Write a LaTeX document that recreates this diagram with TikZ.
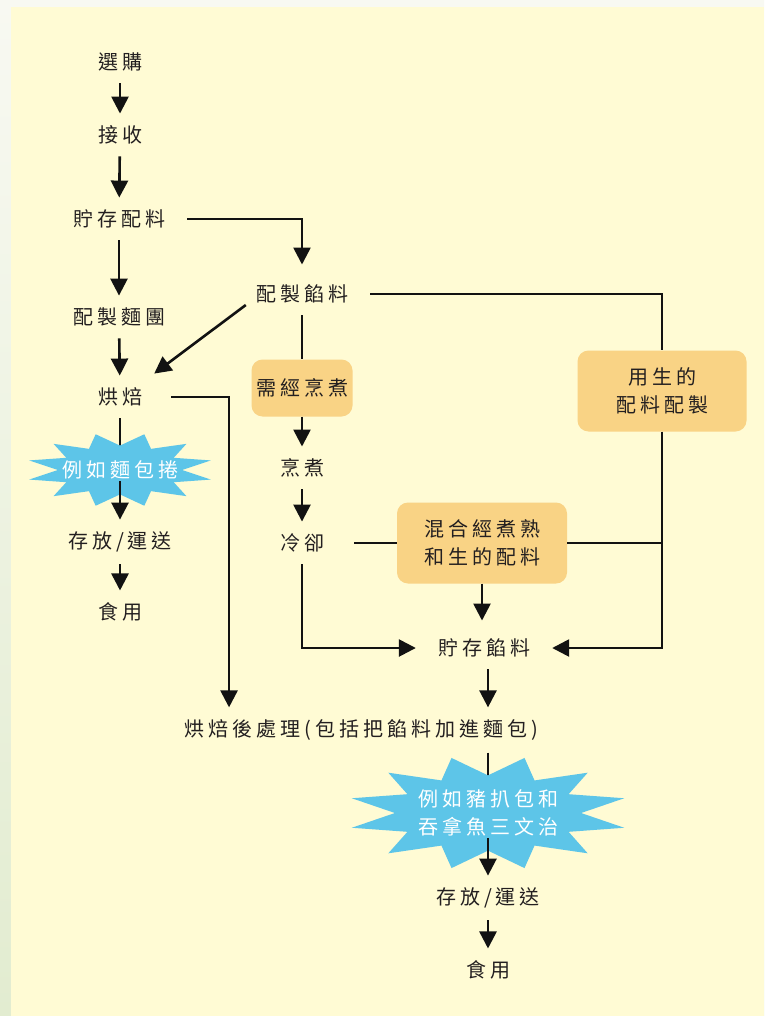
\documentclass[tikz,border=0pt]{standalone}
\usepackage{fontspec}
\newfontfamily\cjk[LetterSpace=20]{Noto Sans CJK TC}
\usetikzlibrary{arrows.meta}

\definecolor{paper}{HTML}{FFFBD4}
\definecolor{edgetop}{HTML}{F8F9F2}
\definecolor{edgebot}{HTML}{E2ECD0}
\definecolor{boxorange}{HTML}{F9D385}
\definecolor{burstblue}{HTML}{5DC5E8}
\definecolor{ink}{HTML}{231F20}

\tikzset{
  flowtext/.style={font=\cjk\fontsize{20pt}{28pt}\selectfont, text=ink, inner xsep=22pt, inner ysep=12pt, align=center},
  notebox/.style={flowtext, fill=boxorange, rounded corners=11pt, inner sep=4pt},
  bursttext/.style={flowtext, text=white, inner sep=2pt},
  flowline/.style={line width=2.6pt, draw=black!93},
  flowarrow/.style={flowline, -{Triangle[width=17pt,length=17pt]}},
}

% star shaped label background: centre, x radius, y radius
\newcommand{\burst}[3]{%
  \fill[burstblue, shift={(#1)}] (15:#2 and #3)
    \foreach \a in {30,60,...,360} {-- (\a:0.66*#2 and 0.66*#3) -- (\a+15:#2 and #3)} -- cycle;}

\begin{document}
\begin{tikzpicture}[x=1pt,y=-1pt]
            % page
            \useasboundingbox (0,0) rectangle (764,1016);
            \shade [top color=edgetop, bottom color=edgebot] (0,0) rectangle (764,1016);
            \fill [paper] (11,7) rectangle (764,1016);
            % bread column
            \node [flowtext] (buy) at (120,62) {選購};
            \node [flowtext] (recv) at (120,135) {接收};
            \node [flowtext] (stock) at (119,219) {貯存配料};
            \node [flowtext] (dough) at (119,317) {配製麵團};
            \node [flowtext] (bake) at (120,397) {烘焙};
            \coordinate (rollc) at (120,470);
            \node [flowtext] (store1) at (120,542) {存放/運送};
            \node [flowtext] (eat1) at (120,612) {食用};
            % filling column
            \node [flowtext] (fillmake) at (302,294) {配製餡料};
            \node [notebox, minimum width=101pt, minimum height=57pt] (cookbox) at (302,388) {需經烹煮};
            \node [flowtext] (cook) at (302,468) {烹煮};
            \node [flowtext] (cool) at (302,543) {冷卻};
            \node [notebox, minimum width=170pt, minimum height=81pt] (mixbox) at (482,543) {混合經煮熟\\和生的配料};
            \node [notebox, minimum width=169pt, minimum height=81pt] (rawbox) at (662,391) {用生的\\配料配製};
            \node [flowtext] (fillstore) at (484,648) {貯存餡料};
            % after baking
            \node [flowtext] (post) at (361,730) {烘焙後處理(包括把餡料加進麵包)};
            \coordinate (sandc) at (488,813);
            \node [flowtext] (store2) at (488,898) {存放/運送};
            \node [flowtext] (eat2) at (488,970) {食用};
            % arrows down the left
            \draw [flowarrow] (buy) -- (recv);
            \draw [flowarrow] (recv) -- (stock);
            \draw [flowarrow] (stock) -- (dough);
            \draw [flowarrow] (dough) -- (bake);
            \draw [flowline] (bake) -- (rollc);
            \draw [flowarrow] (store1) -- (eat1);
            % filling lines
            \draw [flowarrow] (stock.east) -| ([yshift=8pt]fillmake.north);
            \draw [flowarrow] ([xshift=12pt,yshift=-11pt]fillmake.west) -- ([xshift=-10pt,yshift=2pt]bake.north east);
            \draw [flowline] (fillmake) -- (cookbox);
            \draw [flowarrow] (cookbox) -- (cook);
            \draw [flowarrow] (cook) -- (cool);
            \draw [flowline] ([xshift=8pt]cool.east) -- (mixbox.west);
            \draw [flowline] (mixbox.east) -- (mixbox.east -| rawbox.south);
            \draw [flowline] (fillmake.east) -| (rawbox.north);
            \draw [flowarrow] (rawbox.south) |- (fillstore.east);
            \draw [flowarrow] (cool.south) |- (fillstore.west);
            \draw [flowarrow] (mixbox.south) -- ([yshift=6pt]mixbox.south |- fillstore.north);
            \draw [flowarrow] ([xshift=7pt]bake.east) -| ([xshift=67pt]post.north west);
            \draw [flowarrow] (fillstore.south -| sandc) -- (post.north -| sandc);
            \draw [flowline] (post.south -| sandc) -- (sandc);
            % stars
            \burst{rollc}{94}{37}
            \node [bursttext] (roll) at (rollc) {例如麵包捲};
            \draw [flowarrow] (roll.south) -- (store1);
            \burst{sandc}{141}{57}
            \node [bursttext] (sand) at (sandc) {例如豬扒包和\\吞拿魚三文治};
            \draw [flowarrow] (sand.south) -- (store2);
            \draw [flowarrow] (store2) -- (eat2);
\end{tikzpicture}
\end{document}
